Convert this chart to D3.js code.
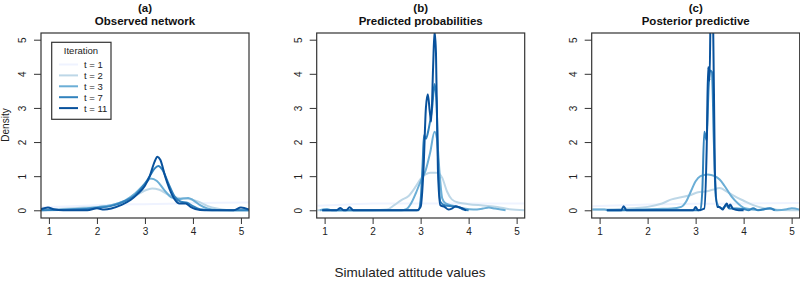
<!DOCTYPE html>
<html>
<head>
<meta charset="utf-8">
<script src="https://cdn.jsdelivr.net/npm/d3@7"></script>
<style>
  body { margin: 0; background: #fff; }
  svg { display: block; }
</style>
</head>
<body>
<div id="chart"></div>
<script>
// iteration labels + colours (Blues)
const iterations = ["t = 1", "t = 2", "t = 3", "t = 7", "t = 11"];
const colors = ["#eff3ff", "#bdd7e7", "#6baed6", "#3182bd", "#08519c"];

const panelTitles = [["(a)", "Observed network"], ["(b)", "Predicted probabilities"], ["(c)", "Posterior predictive"]];
const xTicks = [1, 2, 3, 4, 5];
const yTicks = [0, 1, 2, 3, 4, 5];

// (a) observed network, density per iteration [value, density]
const obs_t1 = [[0.83,0.09],[1.5,0.12],[2,0.15],[2.5,0.17],[3,0.18],[3.5,0.19],[4,0.21],[4.5,0.22],[5.17,0.23]];
const obs_t2 = [[0.83,0.02],[1.2,0.04],[1.6,0.07],[2,0.1],[2.3,0.15],[2.6,0.28],[2.8,0.42],[3.0,0.58],[3.15,0.64],[3.3,0.6],[3.5,0.45],[3.7,0.36],[3.9,0.34],[4.1,0.26],[4.3,0.13],[4.5,0.05],[4.7,0.01],[5.17,0]];
const obs_t3 = [[0.83,0],[1.3,0.02],[1.7,0.05],[2.0,0.09],[2.3,0.15],[2.6,0.3],[2.8,0.5],[3.0,0.78],[3.12,0.93],[3.25,0.86],[3.4,0.6],[3.55,0.38],[3.7,0.33],[3.9,0.36],[4.0,0.3],[4.15,0.15],[4.3,0.05],[4.5,0.01],[5.17,0]];
const obs_t7 = [[0.83,0],[1.5,0.02],[2.0,0.07],[2.3,0.13],[2.6,0.28],[2.8,0.45],[3.0,0.78],[3.1,1.0],[3.2,1.22],[3.28,1.3],[3.36,1.2],[3.5,0.75],[3.62,0.4],[3.75,0.25],[3.88,0.22],[4.0,0.12],[4.15,0.03],[4.4,0],[5.17,0]];
const obs_t11 = [[0.83,0.03],[0.98,0.08],[1.1,0.03],[1.3,0],[1.8,0],[2.0,0.06],[2.15,0.02],[2.3,0.05],[2.5,0.15],[2.7,0.3],[2.85,0.48],[3.0,0.72],[3.1,1.0],[3.2,1.42],[3.26,1.57],[3.32,1.48],[3.42,1.0],[3.52,0.6],[3.62,0.32],[3.72,0.2],[3.85,0.2],[3.95,0.1],[4.05,0.04],[4.25,0],[4.85,0],[5.0,0.08],[5.17,0.02]];

// (b) predicted probabilities
const pred_t1 = [[0.85,0.13],[1.5,0.17],[2,0.2],[3,0.2],[4,0.2],[5.17,0.2]];
const pred_t2 = [[0.85,0],[2.0,0],[2.3,0.02],[2.45,0.15],[2.6,0.3],[2.75,0.42],[2.9,0.7],[3.0,0.92],[3.1,1.05],[3.2,1.1],[3.35,1.1],[3.45,0.95],[3.55,0.55],[3.65,0.32],[3.8,0.22],[4.0,0.18],[4.3,0.14],[4.6,0.1],[4.85,0.03],[5.17,0]];
const pred_t3 = [[0.9,0],[1.05,0.04],[1.15,0],[2.6,0],[2.7,0.03],[2.8,0.2],[2.9,0.5],[3.0,0.85],[3.1,1.15],[3.2,1.7],[3.29,2.3],[3.34,2.1],[3.4,1.0],[3.45,0.35],[3.52,0.2],[3.7,0.12],[3.9,0.05],[4.1,0.02],[4.3,0.05],[4.42,0.08],[4.55,0.05],[4.77,0]];
const pred_t7 = [[0.95,0],[2.95,0],[3.0,0.3],[3.04,1.3],[3.07,2.2],[3.11,2.1],[3.17,2.4],[3.24,3.0],[3.29,3.7],[3.33,3.2],[3.37,1.2],[3.41,0.25],[3.5,0.15],[3.65,0.12],[3.78,0.1],[3.9,0.02],[4.0,0]];
const pred_t11 = [[0.95,0],[1.25,0],[1.33,0.07],[1.4,0],[1.45,0],[1.52,0.09],[1.6,0],[2.92,0],[3.0,0.1],[3.06,1.2],[3.11,3.0],[3.15,3.4],[3.19,2.9],[3.22,2.6],[3.26,4.2],[3.29,5.25],[3.32,4.6],[3.36,1.2],[3.41,0.15],[3.5,0.1],[3.58,0.02],[3.65,0.05],[3.73,0.12],[3.82,0.08],[3.95,0]];

// (c) posterior predictive
const post_t1 = [[0.85,0.12],[2,0.17],[3,0.19],[4,0.2],[5.17,0.21]];
const post_t2 = [[0.85,0.02],[1.3,0.03],[1.7,0.06],[2.0,0.1],[2.3,0.2],[2.5,0.32],[2.7,0.38],[2.9,0.45],[3.05,0.53],[3.2,0.55],[3.35,0.6],[3.5,0.65],[3.65,0.55],[3.8,0.42],[4.0,0.28],[4.2,0.15],[4.4,0.07],[4.6,0.03],[4.8,0.01],[5.17,0]];
const post_t3 = [[0.85,0.02],[1.1,0.02],[1.2,0],[1.8,0.02],[2.2,0.04],[2.5,0.05],[2.7,0.1],[2.8,0.25],[2.9,0.55],[3.0,0.85],[3.1,1.0],[3.25,1.05],[3.4,1.0],[3.5,0.9],[3.6,0.72],[3.75,0.4],[3.9,0.18],[4.05,0.05],[4.3,0.01],[4.55,0.05],[4.7,0],[4.9,0.03],[5.0,0.06],[5.17,0.02]];
const post_t7 = [[1.15,0],[3.1,0],[3.14,0.6],[3.18,2.3],[3.23,2.05],[3.27,3.6],[3.3,4.1],[3.34,4.05],[3.38,2.0],[3.42,0.4],[3.48,0.1],[3.56,0.05],[3.64,0.15],[3.7,0.05],[3.85,0.05],[4.0,0.04],[4.1,0],[4.2,0.06],[4.3,0],[4.55,0.06],[4.65,0]];
const post_t11 = [[1.15,0],[1.45,0],[1.5,0.12],[1.56,0],[2.95,0],[3.0,0.1],[3.05,0],[3.18,0.05],[3.23,1.8],[3.26,4.2],[3.29,3.8],[3.32,6.5],[3.36,6.0],[3.4,1.2],[3.45,0.1],[3.5,0.1],[3.56,0.02],[3.65,0.2],[3.69,0.08],[3.72,0.17],[3.78,0.04],[3.9,0],[4.0,0]];

const panels = [
  [obs_t1, obs_t2, obs_t3, obs_t7, obs_t11],
  [pred_t1, pred_t2, pred_t3, pred_t7, pred_t11],
  [post_t1, post_t2, post_t3, post_t7, post_t11]
];

const width = 800, height = 282;
const boxLefts = [41, 316.7, 591.7];
const boxW = 208, boxTop = 33, boxBottom = 218;
const sans = "'Liberation Sans', Arial, sans-serif";

const svg = d3.select("#chart").append("svg")
    .attr("width", width)
    .attr("height", height);

const y = d3.scaleLinear().domain([-0.226, 5.196]).range([boxBottom, boxTop]);

panels.forEach((series, p) => {
  const left = boxLefts[p];
  const x = d3.scaleLinear().domain([0.835, 5.168]).range([left, left + boxW]);
  const g = svg.append("g");

  g.append("clipPath").attr("id", "clip" + p)
    .append("rect").attr("x", left).attr("y", boxTop).attr("width", boxW).attr("height", boxBottom - boxTop);

  const line = d3.line()
      .x(d => x(d[0]))
      .y(d => y(d[1]))
      .curve(d3.curveMonotoneX);

  g.append("g").attr("clip-path", `url(#clip${p})`)
    .selectAll("path")
    .data(series)
    .join("path")
      .attr("d", line)
      .attr("fill", "none")
      .attr("stroke", (d, i) => colors[i])
      .attr("stroke-width", 2)
      .attr("stroke-linejoin", "round");

  // box
  g.append("rect")
      .attr("x", left).attr("y", boxTop)
      .attr("width", boxW).attr("height", boxBottom - boxTop)
      .attr("fill", "none").attr("stroke", "#333").attr("stroke-width", 1.2);

  // x axis
  g.append("g")
      .attr("transform", `translate(0,${boxBottom})`)
      .call(d3.axisBottom(x).tickValues(xTicks).tickFormat(d3.format("d")).tickSize(6).tickPadding(4).tickSizeOuter(0))
      .call(a => a.select(".domain").remove())
      .call(a => a.selectAll("line").attr("stroke", "#333"))
      .call(a => a.selectAll("text").attr("font-family", sans).attr("font-size", 10).attr("fill", "#222"));

  // y axis with rotated labels (R style)
  const ya = g.append("g")
      .attr("transform", `translate(${left},0)`)
      .call(d3.axisLeft(y).tickValues(yTicks).tickSize(7).tickFormat(d3.format("d")))
      .call(a => a.select(".domain").remove())
      .call(a => a.selectAll("line").attr("stroke", "#333"));
  ya.selectAll("text")
      .attr("font-family", sans).attr("font-size", 10).attr("fill", "#222")
      .attr("x", 0).attr("dy", null)
      .attr("text-anchor", "middle")
      .attr("transform", "translate(-15,0) rotate(-90)");

  // titles
  const cx = left + boxW / 2;
  g.append("text").attr("x", cx).attr("y", 12)
      .attr("text-anchor", "middle").attr("font-family", sans)
      .attr("font-weight", "bold").attr("font-size", 11.5).attr("fill", "#111")
      .text(panelTitles[p][0]);
  g.append("text").attr("x", cx).attr("y", 25)
      .attr("text-anchor", "middle").attr("font-family", sans)
      .attr("font-weight", "bold").attr("font-size", 11.5).attr("fill", "#111")
      .text(panelTitles[p][1]);
});

// y label
svg.append("text")
    .attr("transform", "translate(9,125) rotate(-90)")
    .attr("text-anchor", "middle")
    .attr("font-family", sans).attr("font-size", 10).attr("fill", "#222")
    .text("Density");

// x label
svg.append("text")
    .attr("x", 410).attr("y", 277)
    .attr("text-anchor", "middle")
    .attr("font-family", sans).attr("font-size", 13.5).attr("fill", "#222")
    .text("Simulated attitude values");

// legend
const lg = svg.append("g");
lg.append("rect").attr("x", 51.7).attr("y", 42.3).attr("width", 59.3).attr("height", 77)
    .attr("fill", "#fff").attr("stroke", "#333").attr("stroke-width", 1.2);
lg.append("text").attr("x", 81).attr("y", 54).attr("text-anchor", "middle")
    .attr("font-family", sans).attr("font-size", 9.5).attr("fill", "#222").text("Iteration");
const rows = lg.selectAll("g.row").data(iterations).join("g")
    .attr("transform", (d, i) => `translate(0,${64.5 + i * 10.9})`);
rows.append("line").attr("x1", 59).attr("x2", 78).attr("y1", 0).attr("y2", 0)
    .attr("stroke", (d, i) => colors[i]).attr("stroke-width", 2);
rows.append("text").attr("x", 84).attr("y", 3.5)
    .attr("font-family", sans).attr("font-size", 9.5).attr("fill", "#222")
    .text(d => d);
</script>
</body>
</html>
